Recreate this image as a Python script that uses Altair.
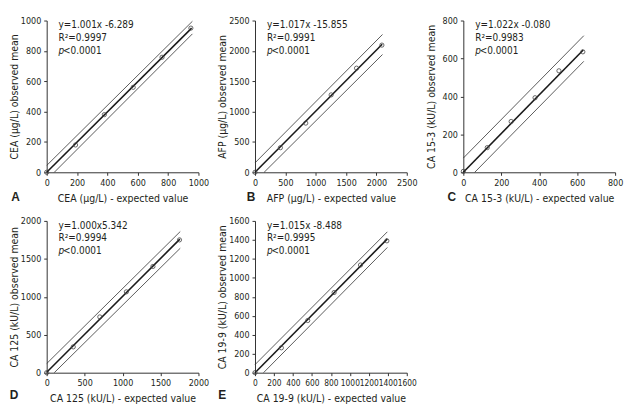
import altair as alt
import pandas as pd

# ---------------- data ----------------
letters = ["A", "B", "C", "D", "E"]
x_titles = ["CEA (μg/L) - expected value", "AFP (μg/L) - expected value",
            "CA 15-3 (kU/L) - expected value", "CA 125 (kU/L) - expected value",
            "CA 19-9 (kU/L) - expected value"]
y_titles = ["CEA (μg/L) observed mean", "AFP (μg/L) observed mean",
            "CA 15-3 (kU/L) observed mean", "CA 125 (kU/L) observed mean",
            "CA 19-9 (kU/L) observed mean"]
equations = ["y=1.001x -6.289", "y=1.017x -15.855", "y=1.022x -0.080",
             "y=1.000x5.342", "y=1.015x -8.488"]
r2_texts = ["R²=0.9997", "R²=0.9991", "R²=0.9983", "R²=0.9994", "R²=0.9995"]
p_label = "p"
p_value = "<0.0001"

axis_max = [1000, 2500, 800, 2000, 1600]
ticks = [
    [0, 200, 400, 600, 800, 1000],
    [0, 500, 1000, 1500, 2000, 2500],
    [0, 200, 400, 600, 800],
    [0, 500, 1000, 1500, 2000],
    [0, 200, 400, 600, 800, 1000, 1200, 1400, 1600],
]
x_label_sizes = [9, 9, 9, 9, 8.4]

expected = [
    [0, 190, 380, 570, 760, 950],
    [0, 418, 836, 1254, 1672, 2090],
    [0, 126, 252, 378, 504, 630],
    [0, 350, 700, 1050, 1400, 1750],
    [0, 278, 556, 834, 1112, 1390],
]
observed = [
    [0, 180, 380, 560, 758, 950],
    [0, 405, 810, 1275, 1715, 2095],
    [5, 130, 268, 393, 535, 635],
    [0, 340, 735, 1065, 1400, 1750],
    [0, 262, 550, 845, 1135, 1390],
]

# regression line end points (x0, y0, x1, y1)
reg_lines = [
    [0, 0, 955, 950],
    [0, 0, 2095, 2110],
    [0, 0, 632, 645],
    [0, 5, 1755, 1760],
    [0, 0, 1395, 1410],
]
# upper and lower limit lines end points
upper_lines = [
    [0, 45, 960, 995],
    [0, 155, 2100, 2270],
    [0, 75, 635, 720],
    [0, 120, 1760, 1860],
    [0, 85, 1395, 1485],
]
lower_lines = [
    [50, 0, 960, 912],
    [150, 0, 2100, 1940],
    [60, 0, 635, 585],
    [100, 0, 1760, 1640],
    [90, 0, 1395, 1320],
]

letter_dx = [-31.5, -4, -11.5, -33, -33]
letter_dy = [178, 178, 178, 175.5, 175.5]

FONT = "Liberation Sans Narrow, DejaVu Sans Condensed, sans-serif"
INK = "#231f20"
W = 153
H = 153


def panel(i):
    xs = alt.X("x:Q", title=x_titles[i],
               scale=alt.Scale(domain=[0, axis_max[i]], nice=False, zero=True),
               axis=alt.Axis(values=ticks[i], format="d", labelFontSize=x_label_sizes[i]))
    ys = alt.Y("y:Q", title=y_titles[i],
               scale=alt.Scale(domain=[0, axis_max[i]], nice=False, zero=True),
               axis=alt.Axis(values=ticks[i], format="d"))

    pts = pd.DataFrame({"x": expected[i], "y": observed[i]})
    r = reg_lines[i]
    reg = pd.DataFrame({"x": [r[0], r[2]], "y": [r[1], r[3]]})
    u = upper_lines[i]
    lo = lower_lines[i]
    band = pd.DataFrame({
        "x": [u[0], u[2], lo[0], lo[2]],
        "y": [u[1], u[3], lo[1], lo[3]],
        "line": ["upper", "upper", "lower", "lower"],
    })
    one = pd.DataFrame({"k": [0]})

    band_layer = alt.Chart(band).mark_line(color="#333333", strokeWidth=0.8).encode(
        x=xs, y=ys, detail="line:N")
    reg_layer = alt.Chart(reg).mark_line(color="#1a1a1a", strokeWidth=1.6).encode(
        x=xs, y=ys)
    pt_layer = alt.Chart(pts).mark_point(
        shape="circle", filled=False, size=18, color="#444444", strokeWidth=0.8,
        opacity=1).encode(x=xs, y=ys)

    txt = dict(align="left", baseline="middle", font=FONT, fontSize=10, color=INK)
    eq_layer = alt.Chart(one).mark_text(**txt).encode(
        x=alt.value(12), y=alt.value(5), text=alt.value(equations[i]))
    r2_layer = alt.Chart(one).mark_text(**txt).encode(
        x=alt.value(12), y=alt.value(17.5), text=alt.value(r2_texts[i]))
    p_layer = alt.Chart(one).mark_text(fontStyle="italic", **txt).encode(
        x=alt.value(12), y=alt.value(30.5), text=alt.value(p_label))
    pv_layer = alt.Chart(one).mark_text(**txt).encode(
        x=alt.value(16.5), y=alt.value(30.5), text=alt.value(p_value))
    letter_layer = alt.Chart(one).mark_text(
        align="center", baseline="middle", font="Liberation Sans, Arial, sans-serif",
        fontSize=12, fontWeight="bold", color=INK).encode(
        x=alt.value(letter_dx[i]), y=alt.value(letter_dy[i]), text=alt.value(letters[i]))

    return alt.layer(band_layer, reg_layer, pt_layer, eq_layer, r2_layer,
                     p_layer, pv_layer, letter_layer).properties(width=W, height=H)


chart = alt.concat(
    *[panel(i) for i in range(5)],
    columns=3,
    spacing={"row": 49, "column": 57},
    bounds="flush",
).properties(
    padding={"left": 1, "top": 7, "right": 5, "bottom": 5}
).configure_view(
    stroke=None
).configure_axis(
    grid=False,
    domainColor="#333333",
    domainWidth=1,
    tickColor="#333333",
    tickSize=3,
    labelPadding=3,
    labelFont=FONT,
    labelFontSize=9,
    labelColor=INK,
    labelOverlap=False,
    labelFlush=False,
    titleFont=FONT,
    titleFontSize=10.5,
    titleFontWeight="normal",
    titleColor=INK,
).configure_axisY(
    minExtent=24, maxExtent=24, titlePadding=3.5,
).configure_axisX(
    minExtent=18, maxExtent=18, titlePadding=3.5,
)

chart.save("out.html", embed_options={"renderer": "svg", "actions": False})
